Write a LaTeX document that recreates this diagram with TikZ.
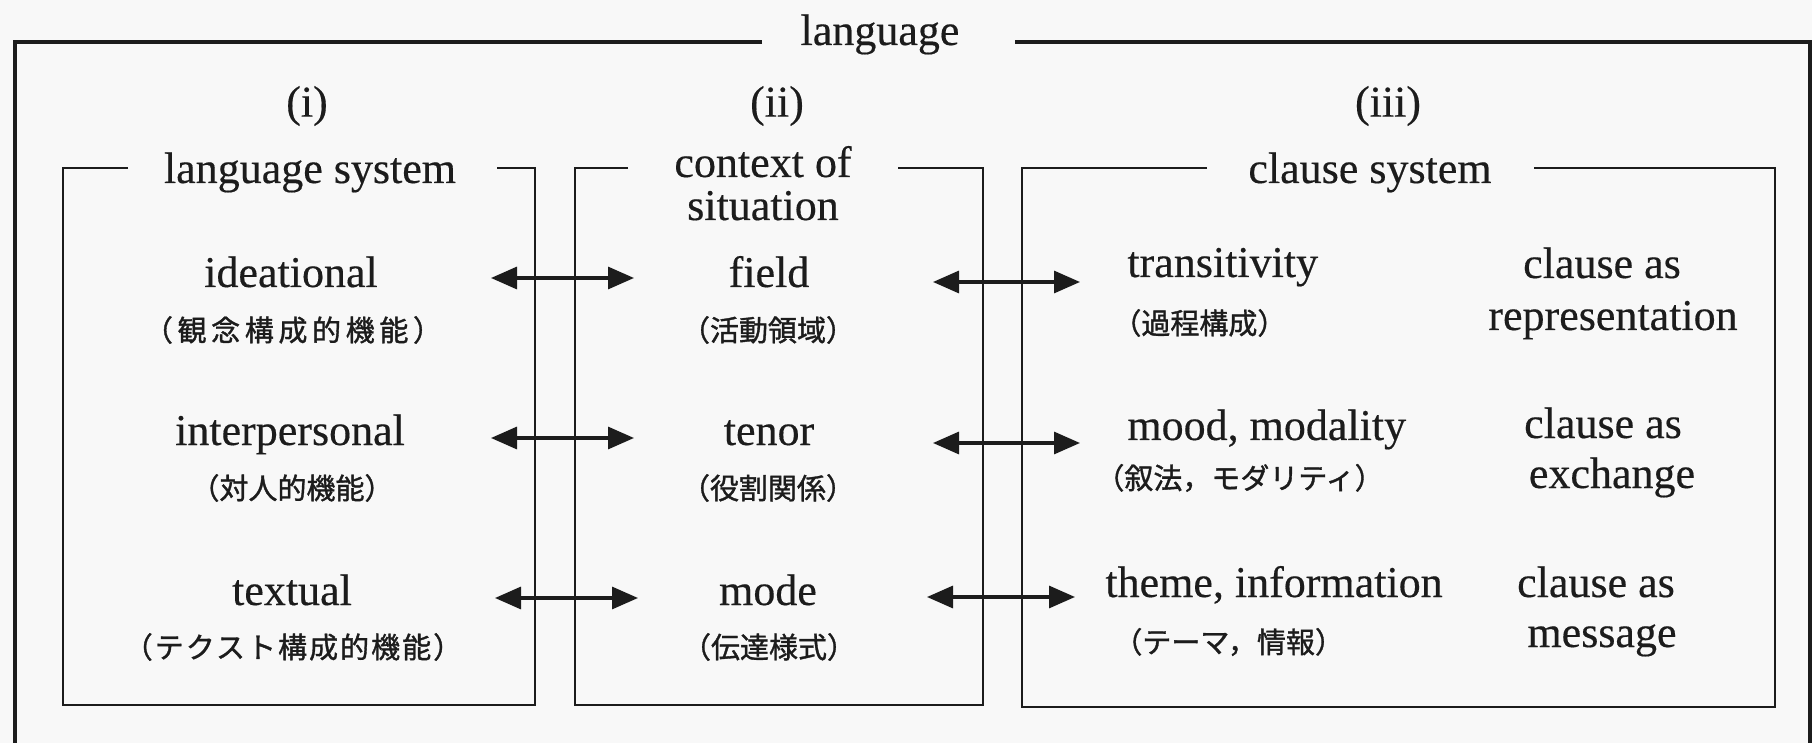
\documentclass[tikz,border=0pt]{standalone}
\usepackage{fontspec}
\setmainfont{Liberation Serif}[FakeBold=0.35]
\newfontfamily\jp{Noto Sans CJK JP}[FakeBold=1.2]
\usetikzlibrary{arrows.meta}
\definecolor{ink}{RGB}{28,28,28}
\definecolor{paper}{RGB}{248,248,248}
\begin{document}
\begin{tikzpicture}[x=0.5pt,y=-0.5pt,
  en/.style={font=\fontsize{22}{26}\selectfont, text=ink, inner sep=0pt},
  ja/.style={font=\jp\fontsize{14.5}{17}\selectfont, text=ink, inner sep=0pt},
  outerline/.style={draw=ink, line width=1.6pt},
  boxline/.style={draw=ink, line width=1.45pt, line join=miter},
  dbl/.style={draw=ink, line width=1.6pt, {Triangle[length=13pt,width=11pt]}-{Triangle[length=13pt,width=11pt]}}]
\fill[paper] (0,0) rectangle (1812,743);
\useasboundingbox (0,0) rectangle (1812,743);

% outer frame "language"
\node[en, anchor=base] (lang) at (880,45) {language};
\coordinate (oTL) at (15,42);
\coordinate (oTR) at (1810,42);
\draw[outerline] (762,42) -- (oTL) -- (15,743);
\draw[outerline] (1015,42) -- (oTR) -- (1810,743);

% column numbers
\node[en] (ni) at (307,106) {(i)};
\node[en] (nii) at (777,106) {(ii)};
\node[en] (niii) at (1388,106) {(iii)};

% box titles
\node[en, anchor=base] (t1) at (310,183) {language system};
\node[en, anchor=base] (t2a) at (763,177) {context of};
\node[en, anchor=base] (t2b) at (763,220) {situation};
\node[en, anchor=base] (t3) at (1370,183) {clause system};

% boxes
\draw[boxline] (128,168) -- (63,168) -- (63,705) -- (535,705) -- (535,168) -- (497,168);
\draw[boxline] (628,168) -- (575,168) -- (575,705) -- (983,705) -- (983,168) -- (898,168);
\draw[boxline] (1207,168) -- (1022,168) -- (1022,707) -- (1775,707) -- (1775,168) -- (1534,168);

% column (i)
\node[en, anchor=base] (ide) at (291,287) {ideational};
\node[ja] (idej) at (293,330) {\addfontfeature{LetterSpace=16}（観念構成的機能）};
\node[en, anchor=base] (int) at (290,445) {interpersonal};
\node[ja] (intj) at (292,488) {（対人的機能）};
\node[en, anchor=base] (tex) at (292,605) {textual};
\node[ja] (texj) at (293,647) {\addfontfeature{LetterSpace=7}（テクスト構成的機能）};

% column (ii)
\node[en, anchor=base] (fie) at (769,287) {field};
\node[ja] (fiej) at (768,330) {（活動領域）};
\node[en, anchor=base] (ten) at (769,445) {tenor};
\node[ja] (tenj) at (768,488) {（役割関係）};
\node[en, anchor=base] (mod) at (768,605) {mode};
\node[ja] (modj) at (769,647) {（伝達様式）};

% column (iii)
\node[en, anchor=base west] (tra) at (1127,277) {transitivity};
\node[ja, anchor=west] (traj) at (1112,323) {（過程構成）};
\node[en, anchor=base west] (moo) at (1127,440) {mood, modality};
\node[ja, anchor=west] (mooj) at (1095,478) {（叙法，モダリティ）};
\node[en, anchor=base west] (the) at (1105,597) {theme, information};
\node[ja, anchor=west] (thej) at (1113,642) {（テーマ，情報）};

\node[en, anchor=base] (c1a) at (1602,278) {clause as};
\node[en, anchor=base] (c1b) at (1613,330) {representation};
\node[en, anchor=base] (c2a) at (1603,438) {clause as};
\node[en, anchor=base] (c2b) at (1612,488) {exchange};
\node[en, anchor=base] (c3a) at (1596,597) {clause as};
\node[en, anchor=base] (c3b) at (1602,647) {message};

% arrows
\coordinate (l1a) at (491,278); \coordinate (l1b) at (634,278);
\coordinate (l2a) at (491,438); \coordinate (l2b) at (634,438);
\coordinate (l3a) at (495,598); \coordinate (l3b) at (638,598);
\coordinate (r1a) at (933,282); \coordinate (r1b) at (1080,282);
\coordinate (r2a) at (933,443); \coordinate (r2b) at (1080,443);
\coordinate (r3a) at (927,597); \coordinate (r3b) at (1075,597);
\draw[dbl] (l1a) -- (l1b);
\draw[dbl] (l2a) -- (l2b);
\draw[dbl] (l3a) -- (l3b);
\draw[dbl] (r1a) -- (r1b);
\draw[dbl] (r2a) -- (r2b);
\draw[dbl] (r3a) -- (r3b);
\end{tikzpicture}
\end{document}
